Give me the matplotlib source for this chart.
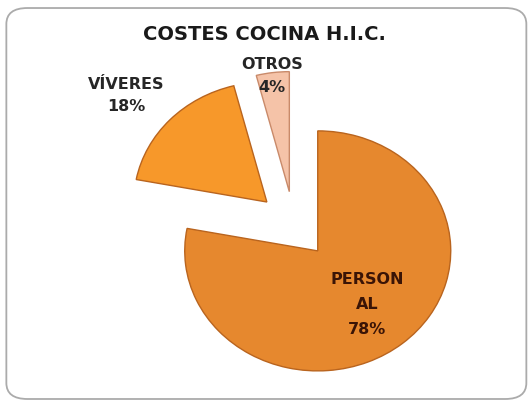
import numpy as np
import matplotlib
matplotlib.use("Agg")
import matplotlib.pyplot as plt
from matplotlib.patches import FancyBboxPatch

# data
labels = ["PERSON\nAL", "VÍVERES", "OTROS"]
values = [78, 18, 4]
colors = ["#E6882E", "#F7982A", "#F5C3A8"]

fig = plt.figure(figsize=(5.29, 4.01), dpi=100)
fig.patch.set_facecolor("white")

# rounded chart frame
frame = FancyBboxPatch((0.012, 0.005), 0.983, 0.975,
                       boxstyle="round,pad=0,rounding_size=0.04",
                       transform=fig.transFigure, facecolor="white",
                       edgecolor="#ABABAB", linewidth=1.3, zorder=-1)
fig.patches.append(frame)

ax = fig.add_axes([0, 0, 1, 1], zorder=1)
ax.set_facecolor("none")

wedges, _ = ax.pie(values, colors=colors, startangle=90, counterclock=False,
                   explode=[0.28, 0.28, 0.28], radius=1,
                   wedgeprops=dict(edgecolor="#B9641E", linewidth=1.0))
wedges[2].set_edgecolor("#C98A6A")

# pie drawn as slightly stretched ellipse, like the original
ax.set_aspect("auto")
ax.set_xlim(-294 / 133, (529 - 294) / 133)
ax.set_ylim(-(401 - 225) / 120, 225 / 120)
ax.axis("off")

fig.text(0.5, 0.913, "COSTES COCINA H.I.C.", ha="center", va="center",
         fontsize=14, fontweight="bold", family="DejaVu Sans", color="#1A1A1A")

# data labels
total = sum(values)
label_dist = [0.86, 1.66, 1.25]
angle_adj = [0, 2.5, 0.5]
text_cols = ["#3A1406", "#262626", "#262626"]
spacing = [1.8, 1.58, 1.66]
for w, lab, v, d, da, tc, ls in zip(wedges, labels, values, label_dist,
                                    angle_adj, text_cols, spacing):
    mid = np.deg2rad((w.theta1 + w.theta2) / 2 + da)
    x, y = d * np.cos(mid), d * np.sin(mid)
    ax.text(x, y, f"{lab}\n{round(v / total * 100)}%", ha="center", va="center",
            fontsize=11.5, fontweight="bold", family="DejaVu Sans", color=tc,
            linespacing=ls)

fig.savefig("out.png", dpi=100)
